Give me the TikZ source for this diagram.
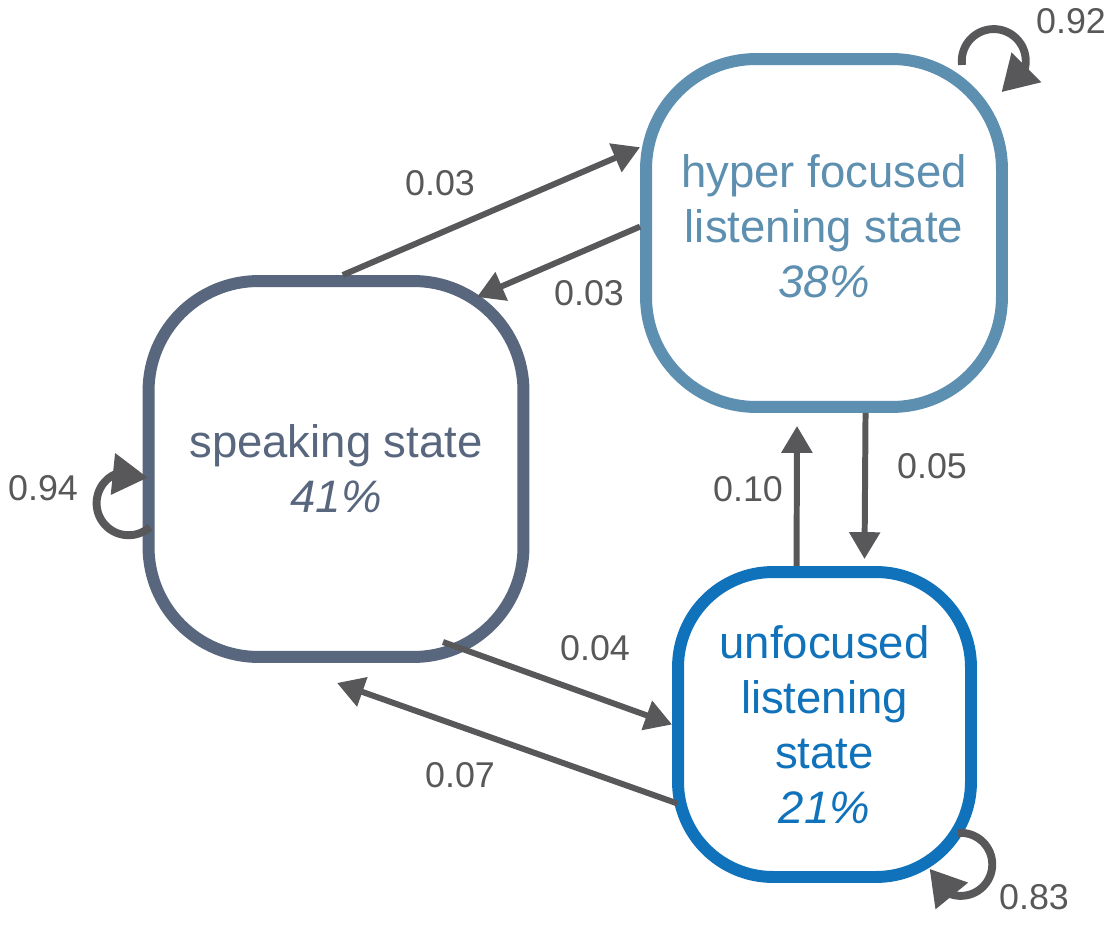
\documentclass[tikz,border=0pt]{standalone}
\usepackage{fontspec}
\setmainfont{Liberation Sans}
\usetikzlibrary{arrows.meta,bending,calc}
\definecolor{spkgrey}{RGB}{89,103,126}
\definecolor{hypblue}{RGB}{92,143,176}
\definecolor{unfblue}{RGB}{16,114,186}
\definecolor{arrgrey}{RGB}{88,88,90}

\begin{document}
\begin{tikzpicture}[x=0.02cm, y=0.02cm,
      state/.style={rectangle, rounded corners=2.2cm, line width=6.8pt,
                    fill=white, align=center, inner sep=0pt,
                    font=\fontsize{25.9}{31.2}\selectfont},
      trans/.style={-{Triangle[length=15.3pt, width=17pt]},
                    line width=3.4pt, arrgrey},
      selfloop/.style={-{Triangle[length=20pt, width=22.7pt]},
                    line width=4.5pt, arrgrey},
      prob/.style={text=arrgrey, font=\fontsize{20.4}{24}\selectfont}]
    \useasboundingbox (0,0) rectangle (1118,937);
    \node[state, draw=spkgrey, text=spkgrey, minimum width=7.5cm,
          minimum height=7.52cm] (spk) at (336,468)
          {speaking state\\\textit{41\%}};
    \node[state, draw=hypblue, text=hypblue, minimum width=7.12cm,
          minimum height=6.96cm, text depth=8pt] (hyp) at (824,704)
          {hyper focused\\listening state\\\textit{38\%}};
    \node[state, draw=unfblue, text=unfblue, rounded corners=1.9cm,
          minimum width=5.86cm, minimum height=6.1cm] (unf) at (824.5,212.5)
          {unfocused\\listening\\state\\\textit{21\%}};
    % transitions
    \draw[trans] (spk.88) -- (hyp.155);
    \draw[trans] (hyp.178) -- ($(spk.center)+(141,172)$);
    \draw[trans] (unf.100) -- ($(hyp.south)+(-27,-13)$);
    \draw[trans] (hyp.283) -- ($(unf.north)+(40,7)$);
    \draw[trans] ($(spk.center)+(107,-173)$) -- (unf.west);
    \draw[trans] ($(unf.center)+(-147,-79)$) -- ($(spk.south)+(1,-20)$);
    % self loops
    \draw[selfloop] ($(spk.center)+(-186,-58)$)
      arc[start angle=-48, end angle=-307, radius=32];
    \draw[selfloop] ($(hyp.center)+(138,168)$)
      arc[start angle=187, end angle=-76, radius=32];
    \draw[selfloop] ($(unf.center)+(133.5,-108.5)$)
      arc[start angle=95, end angle=-172, radius=31.5];
    % probabilities
    \node[prob] (p1) at (440,754) {0.03};
    \node[prob] (p2) at (589,644) {0.03};
    \node[prob] (p3) at (748,448) {0.10};
    \node[prob] (p4) at (932,471) {0.05};
    \node[prob] (p5) at (595,289) {0.04};
    \node[prob] (p6) at (460,162) {0.07};
    \node[prob] (p7) at (43,449) {0.94};
    \node[prob] (p8) at (1071,916) {0.92};
    \node[prob] (p9) at (1034,40) {0.83};
  \end{tikzpicture}
\end{document}
